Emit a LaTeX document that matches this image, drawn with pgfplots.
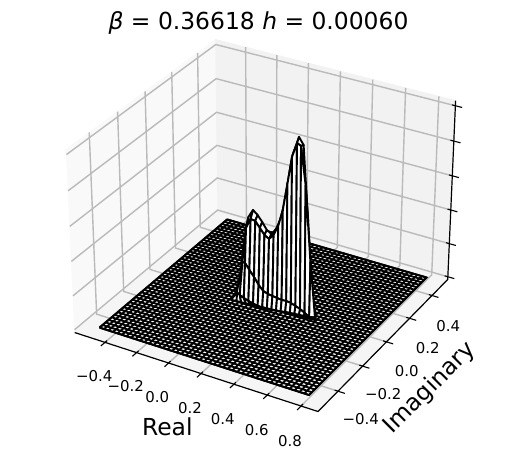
\documentclass[border=0pt]{standalone}
\usepackage{fontspec}
\setmainfont{DejaVu Sans}
\usepackage{pgfplots}
\pgfplotsset{compat=1.18}
\definecolor{paneX}{gray}{0.975}
\definecolor{paneY}{gray}{0.95}
\definecolor{paneZ}{gray}{0.9625}
\definecolor{gridc}{gray}{0.73}
\pgfplotsset{
  /pgfplots/table/proj/.style={
    row sep=\\,
    x expr={PX(\thisrow{re},\thisrow{im},\thisrow{z})},
    y expr={PY(\thisrow{re},\thisrow{im},\thisrow{z})},
    z expr=0},
}
\begin{document}
\begin{tikzpicture}
\useasboundingbox (0,0) rectangle (523bp,469bp);
\begin{axis}[
  at={(0,0)},anchor=south west,
  scale only axis,width=523bp,height=469bp,
  view={0}{90},hide axis,clip=false,
  xmin=0,xmax=523,ymin=0,ymax=469,zmin=0,zmax=6,
  declare function={
    qa(\x)=-0.1167+0.7649*\x;
    qb(\y)=0.0071+1.0372*\y;
    qc(\z)=-0.4149+0.1640*\z;
    dd(\x,\y,\z)=10-(0.433*qa(\x)-0.75*qb(\y)+0.5*qc(\z));
    PX(\x,\y,\z)=264.5+2440*(0.866*qa(\x)+0.5*qb(\y))/dd(\x,\y,\z);
    PY(\x,\y,\z)=252+2437*(-0.25*qa(\x)+0.433*qb(\y)+0.866*qc(\z))/dd(\x,\y,\z);
  },
]
% panes
\addplot3[fill=paneX,draw=paneX,line width=0.8bp] table[proj]{re im z\\ -0.5945 -0.5577 -0.0836\\ -0.5945 0.5441 -0.0836\\ -0.5945 0.5441 5.144\\ -0.5945 -0.5577 5.144\\ -0.5945 -0.5577 -0.0836\\};
\addplot3[fill=paneY,draw=paneY,line width=0.8bp] table[proj]{re im z\\ -0.5945 0.5441 -0.0836\\ 0.8996 0.5441 -0.0836\\ 0.8996 0.5441 5.144\\ -0.5945 0.5441 5.144\\ -0.5945 0.5441 -0.0836\\};
\addplot3[fill=paneZ,draw=paneZ,line width=0.8bp] table[proj]{re im z\\ -0.5945 -0.5577 -0.0836\\ 0.8996 -0.5577 -0.0836\\ 0.8996 0.5441 -0.0836\\ -0.5945 0.5441 -0.0836\\ -0.5945 -0.5577 -0.0836\\};
% grid lines
\pgfplotsinvokeforeach{-0.4,-0.2,0.0,0.2,0.4,0.6,0.8}{
  \addplot3[gridc,line width=1.4bp] table[proj]{re im z\\ #1 -0.5577 -0.0836\\ #1 0.5441 -0.0836\\ #1 0.5441 5.144\\};
}
\pgfplotsinvokeforeach{-0.4,-0.2,0.0,0.2,0.4}{
  \addplot3[gridc,line width=1.4bp] table[proj]{re im z\\ 0.8996 #1 -0.0836\\ -0.5945 #1 -0.0836\\ -0.5945 #1 5.144\\};
}
\pgfplotsinvokeforeach{0,1,2,3,4,5}{
  \addplot3[gridc,line width=1.4bp] table[proj]{re im z\\ -0.5945 -0.5577 #1\\ -0.5945 0.5441 #1\\ 0.8996 0.5441 #1\\};
}
% axis lines and ticks
\addplot3[black,line width=1.2bp] table[proj]{re im z\\ -0.5945 -0.5577 -0.0836\\ 0.8996 -0.5577 -0.0836\\ 0.8996 0.5441 -0.0836\\ 0.8996 0.5441 5.144\\};
\pgfplotsinvokeforeach{-0.4,-0.2,0.0,0.2,0.4,0.6,0.8}{
  \addplot3[black,line width=1.1bp] table[proj]{re im z\\ #1 -0.5427 -0.0836\\ #1 -0.5877 -0.0836\\};
}
\pgfplotsinvokeforeach{-0.4,-0.2,0.0,0.2,0.4}{
  \addplot3[black,line width=1.1bp] table[proj]{re im z\\ 0.8796 #1 -0.0836\\ 0.9396 #1 -0.0836\\};
}
\pgfplotsinvokeforeach{0,1,2,3,4,5}{
  \addplot3[black,line width=1.1bp] table[proj]{re im z\\ 0.8796 0.5441 #1\\ 0.9396 0.5441 #1\\};
}
% flat part of the surface
\addplot3[fill=white,draw=black,line width=1.9bp] table[proj]{re im z\\ -0.49 -0.495 0\\ 0.80 -0.495 0\\ 0.80 0.495 0\\ -0.49 0.495 0\\ -0.49 -0.495 0\\};
\pgfplotsinvokeforeach{-0.490,-0.461,-0.433,-0.404,-0.375,-0.347,-0.318,-0.289,-0.261,-0.232,-0.203,-0.175,-0.146,-0.117,-0.089,-0.060,-0.031,-0.003,0.026,0.055,0.083,0.112,0.141,0.169,0.198,0.227,0.255,0.284,0.313,0.341,0.370,0.399,0.427,0.456,0.485,0.513,0.542,0.571,0.599,0.628,0.657,0.685,0.714,0.743,0.771,0.800}{
  \addplot3[black,line width=1.9bp] table[proj]{re im z\\ #1 -0.495 0\\ #1 0.495 0\\};
}
\pgfplotsinvokeforeach{-0.495,-0.473,-0.451,-0.429,-0.407,-0.385,-0.363,-0.341,-0.319,-0.297,-0.275,-0.253,-0.231,-0.209,-0.187,-0.165,-0.143,-0.121,-0.099,-0.077,-0.055,-0.033,-0.011,0.011,0.033,0.055,0.077,0.099,0.121,0.143,0.165,0.187,0.209,0.231,0.253,0.275,0.297,0.319,0.341,0.363,0.385,0.407,0.429,0.451,0.473,0.495}{
  \addplot3[black,line width=1.9bp] table[proj]{re im z\\ -0.49 #1 0\\ 0.80 #1 0\\};
}
% the raised part (picture position, rows back to front)
\addplot3[surf,shader=faceted,faceted color=black,line width=1.9bp,line join=round,
  colormap={wh}{color(0)=(white) color(1)=(white)},z buffer=none,
  mesh/rows=5,mesh/cols=19,point meta=0]
  table[row sep=\\,x=px,y expr=469-\thisrow{py},z expr=\thisrow{d}]{
px py d\\
234.6 296 1\\ 239.2 283 1\\ 244.3 240 1\\ 248.4 217 1\\ 253 210 1\\ 257.6 215 1\\ 262.2 222 1\\ 266.8 230 1\\ 271.4 234 1\\ 276 229 1\\ 280.6 219 1\\ 285.2 203 1\\ 289.8 177 1\\ 294.4 150 1\\ 299 137 1\\ 303.6 145 1\\ 308.2 222 1\\ 312.8 296 1\\ 315.8 318 1\\
232.5 298 2\\ 237.3 290 2\\ 242.4 262 2\\ 246 228 2\\ 250.6 219 2\\ 255.2 221 2\\ 259.8 228 2\\ 264.4 235 2\\ 269 239 2\\ 273.6 235 2\\ 278.2 226 2\\ 282.8 210 2\\ 287.4 184 2\\ 292 157 2\\ 297 143 2\\ 301 146 2\\ 305.6 185 2\\ 310.4 262 2\\ 314.8 316 2\\
232.5 298 3\\ 237.3 290 3\\ 242.4 262 3\\ 245 263 3\\ 249.4 270 3\\ 254 277 3\\ 258.6 285 3\\ 263.2 291 3\\ 267.8 294 3\\ 272.4 296 3\\ 277 298 3\\ 281.6 300 3\\ 286.2 301 3\\ 290.8 303 3\\ 295.4 306 3\\ 300 309 3\\ 304.6 313 3\\ 309.2 317 3\\ 314.8 317.5 3\\
232.5 298 4\\ 237 292.5 4\\ 239.7 295 4\\ 243.8 298 4\\ 248.4 301 4\\ 253 303.5 4\\ 257.6 306 4\\ 262.2 307.5 4\\ 266.8 309 4\\ 271.4 310 4\\ 276 310.5 4\\ 280.6 311.5 4\\ 285.2 312 4\\ 289.8 313 4\\ 294.4 314 4\\ 299 315 4\\ 303.6 316 4\\ 308.2 317 4\\ 314.8 318 4\\
232 300 5\\ 236.6 301.1 5\\ 241.2 302.2 5\\ 245.8 303.3 5\\ 250.4 304.4 5\\ 255 305.5 5\\ 259.6 306.6 5\\ 264.2 307.7 5\\ 268.8 308.8 5\\ 273.4 309.9 5\\ 278 311 5\\ 282.6 312.1 5\\ 287.2 313.2 5\\ 291.8 314.3 5\\ 296.4 315.4 5\\ 301 316.5 5\\ 305.6 317.6 5\\ 310.2 318.7 5\\ 314.8 320 5\\
};
% text
\node[font=\fontsize{23.5}{28}\selectfont] at (axis cs:258.5,446.5,0) {{\itshape β} = 0.36618 {\itshape h} = 0.00060};
\node[font=\fontsize{15}{18}\selectfont] at (axis cs:94.3,93,0) {−0.4};
\node[font=\fontsize{15}{18}\selectfont] at (axis cs:125.7,83,0) {−0.2};
\node[font=\fontsize{15}{18}\selectfont] at (axis cs:157.3,72.3,0) {0.0};
\node[font=\fontsize{15}{18}\selectfont] at (axis cs:190,61.3,0) {0.2};
\node[font=\fontsize{15}{18}\selectfont] at (axis cs:222.7,50.3,0) {0.4};
\node[font=\fontsize{15}{18}\selectfont] at (axis cs:256.7,39,0) {0.6};
\node[font=\fontsize{15}{18}\selectfont] at (axis cs:290,28.3,0) {0.8};
\node[font=\fontsize{15}{18}\selectfont] at (axis cs:448.3,143.3,0) {0.4};
\node[font=\fontsize{15}{18}\selectfont] at (axis cs:427.7,121.3,0) {0.2};
\node[font=\fontsize{15}{18}\selectfont] at (axis cs:406.7,98.3,0) {0.0};
\node[font=\fontsize{15}{18}\selectfont] at (axis cs:383.3,74.7,0) {−0.2};
\node[font=\fontsize{15}{18}\selectfont] at (axis cs:360.7,50,0) {−0.4};
\node[font=\fontsize{23.5}{28}\selectfont] at (axis cs:167.3,42.3,0) {Real};
\node[font=\fontsize{23.5}{28}\selectfont,rotate=45] at (axis cs:430,81,0) {Imaginary};
\end{axis}
\end{tikzpicture}
\end{document}
